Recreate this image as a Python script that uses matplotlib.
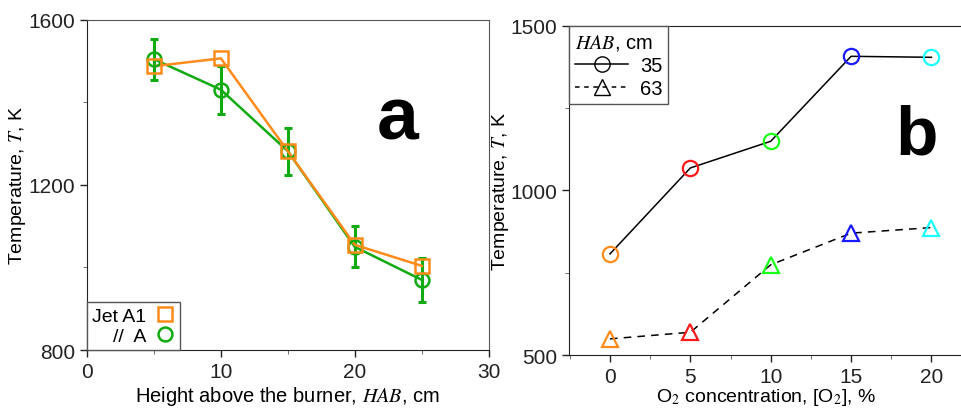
import matplotlib.pyplot as plt
from matplotlib.lines import Line2D
from matplotlib.ticker import MultipleLocator

plt.rcParams['font.family'] = ['Liberation Sans', 'DejaVu Sans']
plt.rcParams['mathtext.fontset'] = 'stix'

# Panel a: temperature vs height above burner
hab = [5, 10, 15, 20, 25]
t_jet = [1488, 1507, 1282, 1055, 1004]
t_a = [1505, 1431, 1282, 1050, 970]
t_a_err = [50, 58, 57, 50, 53]

# Panel b: temperature vs O2 concentration
o2 = [0, 5, 10, 15, 20]
t_35 = [807, 1068, 1149, 1407, 1404]
t_63 = [549, 569, 774, 870, 887]
o2_colors = ['#ff8c1a', '#ff1a1a', '#1aff1a', '#1a1aff', '#1affff']

orange = '#ff8c1a'
green = '#11aa11'
frame = '#555555'

fig = plt.figure(figsize=(9.62, 4.10), dpi=100)

##################################################
# Panel a
##################################################
ax1 = fig.add_axes([0.0904, 0.1439, 0.4176, 0.8049])
ax1.plot(hab, t_jet, color=orange, lw=1.8, zorder=3)
ax1.plot(hab, t_jet, ls='none', marker='s', ms=10, mfc='none', mec=orange, mew=1.8, zorder=4)
ax1.errorbar(hab, t_a, yerr=t_a_err, color=green, lw=1.8, elinewidth=2.2,
             capsize=3, capthick=2.2, zorder=2)
ax1.plot(hab, t_a, ls='none', marker='o', ms=10, mfc='none', mec=green, mew=1.8, zorder=3)

ax1.set_xlim(0, 30)
ax1.set_ylim(800, 1600)
ax1.xaxis.set_major_locator(MultipleLocator(10))
ax1.xaxis.set_minor_locator(MultipleLocator(5))
ax1.yaxis.set_major_locator(MultipleLocator(400))
ax1.yaxis.set_minor_locator(MultipleLocator(200))
ax1.tick_params(which='major', direction='out', length=5, labelsize=15, colors='#222222', width=1)
ax1.tick_params(which='minor', direction='out', length=3, colors=frame)
for sp in ax1.spines.values():
    sp.set_color(frame)
ax1.spines['left'].set_color('#222222')
ax1.spines['bottom'].set_color('#222222')
ax1.set_xlabel(r'Height above the burner, $\mathit{HAB}$, cm', fontsize=14.5, labelpad=2)
ax1.set_ylabel(r'Temperature, $\mathit{T}$, K', fontsize=14, labelpad=0)
ax1.text(0.774, 0.70, 'a', transform=ax1.transAxes, fontsize=54, fontweight='bold',
         ha='center', va='center')

h1 = [Line2D([], [], ls='none', marker='s', ms=10, mfc='none', mec=orange, mew=1.8),
      Line2D([], [], ls='none', marker='o', ms=10, mfc='none', mec=green, mew=1.8)]
leg1 = ax1.legend(h1, ['Jet A1', '//  A'], loc='lower left', markerfirst=False,
                  fontsize=14, fancybox=False, edgecolor=frame, framealpha=1,
                  borderaxespad=0, handlelength=1.0, handletextpad=0.5,
                  labelspacing=0.15, borderpad=0.25)
leg1.get_frame().set_linewidth(1)
for t in leg1.get_texts():
    t.set_ha('right')

##################################################
# Panel b
##################################################
ax2 = fig.add_axes([0.5918, 0.1317, 0.4082, 0.8032])
ax2.plot(o2, t_35, color='black', lw=1.1, zorder=2)
ax2.plot(o2, t_63, color='black', lw=1.1, ls=(0, (5, 4)), zorder=2)
for x, y1, y2, c in zip(o2, t_35, t_63, o2_colors):
    ax2.plot(x, y1, marker='o', ms=11, mfc='none', mec=c, mew=1.6, zorder=3)
    ax2.plot(x, y2, marker='^', ms=12, mfc='none', mec=c, mew=1.6, zorder=3)

ax2.set_xlim(-2.53, 21.9)
ax2.set_ylim(500, 1500)
ax2.xaxis.set_major_locator(MultipleLocator(5))
ax2.xaxis.set_minor_locator(MultipleLocator(2.5))
ax2.yaxis.set_major_locator(MultipleLocator(500))
ax2.yaxis.set_minor_locator(MultipleLocator(250))
ax2.tick_params(which='major', direction='out', length=5, labelsize=15, colors='#222222', width=1)
ax2.tick_params(which='minor', direction='out', length=3, colors=frame)
for sp in ax2.spines.values():
    sp.set_color('#222222')
ax2.spines['right'].set_visible(False)
ax2.set_xlabel(r'O$_2$ concentration, [O$_2$], %', fontsize=14, labelpad=0)
ax2.set_ylabel(r'Temperature, $\mathit{T}$, K', fontsize=14, labelpad=0)
ax2.text(0.884, 0.668, 'b', transform=ax2.transAxes, fontsize=50, fontweight='bold',
         ha='center', va='center')

h2 = [Line2D([], [], color='black', lw=1.1, marker='o', ms=11, mfc='none', mec='black'),
      Line2D([], [], color='black', lw=1.1, ls=(0, (3, 3)), marker='^', ms=12, mfc='none', mec='black')]
leg2 = ax2.legend(h2, ['35', '63'], title=r'$\mathit{HAB}$, cm', loc='upper left',
                  fontsize=14.5, title_fontsize=14.5, fancybox=False, edgecolor=frame,
                  framealpha=1, borderaxespad=0, handlelength=2.6, handletextpad=0.6,
                  labelspacing=0.2, borderpad=0.3)
leg2.get_frame().set_linewidth(1)
leg2._legend_box.align = 'left'

fig.savefig('out.png', dpi=100)
